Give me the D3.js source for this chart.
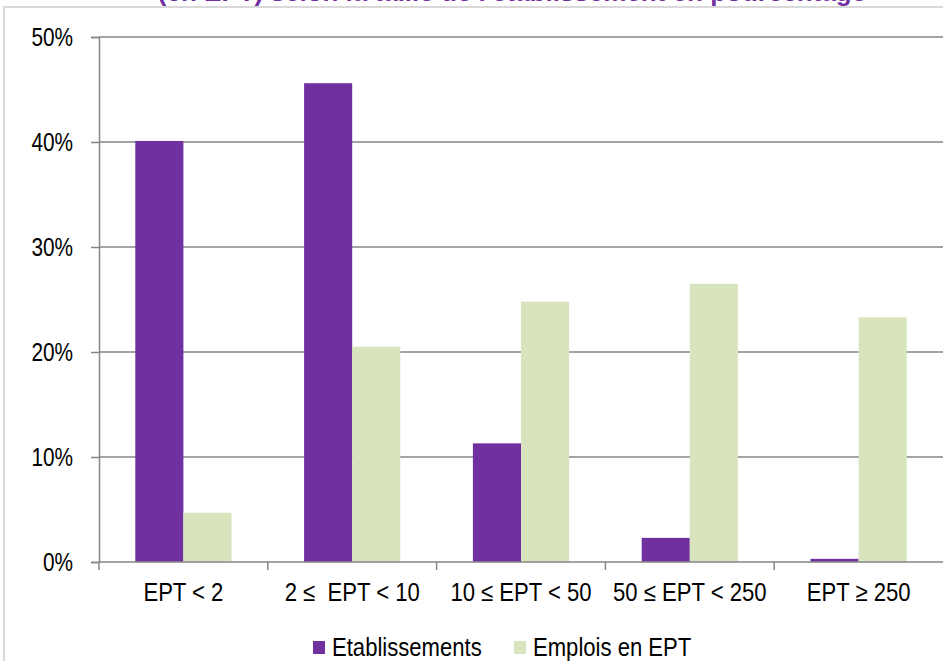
<!DOCTYPE html>
<html><head><meta charset="utf-8">
<script src="https://cdn.jsdelivr.net/npm/d3@7"></script>
<style>body{margin:0;background:#fff;overflow:hidden}svg{display:block}</style>
</head><body>
<svg id="c" width="943" height="661"></svg>
<script>
const categories = ["EPT < 2", "2 \u2264\u00a0 EPT < 10", "10 \u2264 EPT < 50", "50 \u2264 EPT < 250", "EPT \u2265 250"];
const seriesNames = ["Etablissements", "Emplois en EPT"];
const etablissements = [40.1, 45.6, 11.3, 2.3, 0.3];
const emplois = [4.7, 20.5, 24.8, 26.5, 23.3];
const yTicks = [0, 10, 20, 30, 40, 50];
const colors = ["#7030A0", "#D7E4BD"];
const titleText = "(en EPT) selon la taille de l'\u00e9tablissement en pourcentage";

const svg = d3.select("#c");
const font = "'Liberation Sans', Arial, sans-serif";
const fs = 26, sy = 0.8, sxx = 0.85;
const mLeft = 99, mRight = 943, mTop = 37, mBottom = 562;

// frame
svg.append("rect").attr("x", 4).attr("y", 7).attr("width", 960).attr("height", 700)
  .attr("fill", "none").attr("stroke", "#d9d9d9").attr("stroke-width", 2);
// title (cut off at the top, as in the source)
svg.append("text").attr("x", 512).attr("y", 1).attr("text-anchor", "middle")
  .attr("font-family", font).attr("font-weight", "bold")
  .attr("font-size", 26).attr("fill", "#7030A0").text(titleText);

const x0 = d3.scaleBand().domain(categories).range([mLeft, mRight]).padding(0);
const x1 = d3.scaleBand().domain(seriesNames).range([0, x0.bandwidth() * 0.57]).padding(0);
const y = d3.scaleLinear().domain([0, 50]).range([mBottom, mTop]);

// gridlines
svg.append("g").selectAll("line").data(yTicks.filter(d => d > 0)).join("line")
  .attr("x1", mLeft).attr("x2", mRight).attr("y1", d => y(d)).attr("y2", d => y(d))
  .attr("stroke", "#868686").attr("stroke-width", 1.5);

// bars
const data = categories.map((c, i) => ({c, vals: [etablissements[i], emplois[i]]}));
const off = (x0.bandwidth() - x0.bandwidth() * 0.57) / 2;
const g = svg.append("g");
data.forEach(d => {
  d.vals.forEach((v, j) => {
    g.append("rect").attr("x", x0(d.c) + off + x1(seriesNames[j]))
      .attr("width", x1.bandwidth()).attr("y", y(v)).attr("height", y(0) - y(v))
      .attr("fill", colors[j]);
  });
});

// y axis
const ya = svg.append("g").attr("transform", `translate(${mLeft},0)`)
  .call(d3.axisLeft(y).tickValues(yTicks).tickFormat(d => d + "%").tickSize(8).tickPadding(17));
ya.select(".domain").attr("stroke", "#868686").attr("stroke-width", 1.5);
ya.selectAll(".tick line").attr("stroke", "#868686").attr("stroke-width", 1.5);
ya.selectAll("text").attr("font-family", font).attr("font-size", fs).attr("fill", "#000")
  .attr("x", -26 / sy).attr("transform", `scale(${sy},1)`);

// x axis
const xa = svg.append("g").attr("transform", `translate(0,${mBottom})`)
  .call(d3.axisBottom(x0).tickSize(0).tickPadding(21));
xa.select(".domain").remove();
xa.append("line").attr("x1", mLeft).attr("x2", mRight).attr("stroke", "#868686").attr("stroke-width", 1.5);
xa.selectAll(".sep").data(categories).join("line").attr("class", "sep")
  .attr("x1", d => x0(d)).attr("x2", d => x0(d)).attr("y1", 0).attr("y2", 8)
  .attr("stroke", "#868686").attr("stroke-width", 1.5);
xa.selectAll(".tick text").attr("font-family", font).attr("font-size", fs).attr("fill", "#000")
  .attr("transform", `scale(${sxx},1)`);

// legend
const leg = svg.append("g");
const legItems = [{n: seriesNames[0], x: 313, c: colors[0]}, {n: seriesNames[1], x: 514, c: colors[1]}];
legItems.forEach(it => {
  leg.append("rect").attr("x", it.x).attr("y", 641).attr("width", 12).attr("height", 13).attr("fill", it.c);
  leg.append("g").attr("transform", `translate(${it.x + 19},656) scale(${sxx},1)`)
    .append("text").attr("font-family", font)
    .attr("font-size", fs).attr("fill", "#000").text(it.n);
});
</script>
</body></html>
